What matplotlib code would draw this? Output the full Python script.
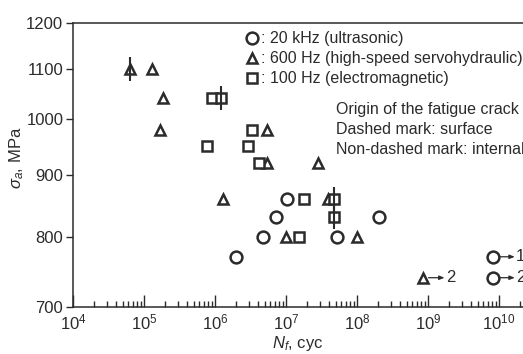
import numpy as np
import matplotlib
matplotlib.use("Agg")
import matplotlib.pyplot as plt
from matplotlib.transforms import offset_copy
from matplotlib.ticker import FixedLocator, FixedFormatter, LogLocator, NullFormatter, NullLocator

plt.rcParams['font.family'] = ['Liberation Sans', 'DejaVu Sans']
plt.rcParams['mathtext.fontset'] = 'custom'
plt.rcParams['mathtext.rm'] = 'Liberation Sans'
plt.rcParams['mathtext.it'] = 'Liberation Sans:italic'

ink = '#2b2b2b'

# 20 kHz (ultrasonic)
circ_n = [2.0e6, 4.8e6, 7.2e6, 1.02e7, 5.2e7, 2.04e8]
circ_s = [770, 800, 830, 860, 800, 830]
# 600 Hz (high-speed servohydraulic)
tri_n = [6.3e4, 1.3e5, 1.85e5, 1.7e5, 1.3e6, 5.4e6, 5.4e6, 2.8e7, 1.0e7, 3.9e7, 1.0e8]
tri_s = [1100, 1100, 1040, 980, 860, 980, 920, 920, 800, 860, 800]
# 100 Hz (electromagnetic)
sq_n = [9.1e5, 1.2e6, 7.8e5, 2.9e6, 3.3e6, 4.1e6, 1.8e7, 4.8e7, 4.8e7, 1.5e7]
sq_s = [1040, 1040, 950, 950, 980, 920, 860, 860, 830, 800]
# surface-origin marks (dashed)
surf_n = [6.3e4, 1.2e6, 4.8e7, 4.8e7]
surf_s = [1100, 1040, 860, 830]
# run-outs
run_n = [8.5e8, 8.3e9, 8.3e9]
run_s = [740, 770, 740]
run_mk = ['^', 'o', 'o']
run_lab = ['2', '1', '2']

legend_txt = [': 20 kHz (ultrasonic)', ': 600 Hz (high-speed servohydraulic)',
              ': 100 Hz (electromagnetic)']
note_txt = ['Origin of the fatigue crack', 'Dashed mark: surface',
            'Non-dashed mark: internal']

fig = plt.figure(figsize=(5.23, 3.54), dpi=100)
ax = fig.add_axes([73/523, 47/354, 450/523, 284/354])

mk = dict(ls='none', mfc='white', mec=ink, mew=1.8, clip_on=False)
ax.plot(circ_n, circ_s, 'o', ms=8.5, **mk)
ax.plot(tri_n, tri_s, '^', ms=7, **mk)
ax.plot(sq_n, sq_s, 's', ms=6.5, **mk)
ax.plot(surf_n, surf_s, '|', ms=17, mew=1.5, color=ink, ls='none')

ax.set_xscale('log')
ax.set_yscale('log')
ax.set_xlim(1e4, 10**(4 + 450/71))
ax.set_ylim(700, 1200)

# run-out arrows: start just past the marker, tip right before the label
start_tr = offset_copy(ax.transData, fig=fig, x=4, y=0, units='points')
tip_tr = offset_copy(ax.transData, fig=fig, x=15.5, y=0, units='points')
for n, s, m, lab in zip(run_n, run_s, run_mk, run_lab):
    ax.plot(n, s, m, ms=8.5 if m == 'o' else 7, **mk)
    ax.annotate('', xy=(n, s), xycoords=tip_tr, xytext=(n, s), textcoords=start_tr,
                arrowprops=dict(arrowstyle='-|>,head_length=0.3,head_width=0.12',
                                color=ink, lw=0.9, shrinkA=0, shrinkB=0),
                annotation_clip=False)
    ax.annotate(lab, xy=(n, s), xytext=(16.5, 0), textcoords='offset points',
                ha='left', va='center', fontsize=12, color=ink,
                annotation_clip=False)

yt = [700, 800, 900, 1000, 1100, 1200]
ax.yaxis.set_major_locator(FixedLocator(yt))
ax.yaxis.set_major_formatter(FixedFormatter([str(v) for v in yt]))
ax.yaxis.set_minor_locator(NullLocator())
ax.xaxis.set_major_locator(LogLocator(base=10, numticks=20))
ax.xaxis.set_minor_locator(LogLocator(base=10, subs=np.arange(2, 10), numticks=20))
ax.xaxis.set_minor_formatter(NullFormatter())

ax.tick_params(axis='y', direction='out', length=5, width=1, colors=ink, labelsize=12, pad=2)
ax.tick_params(axis='x', which='major', direction='in', length=9, width=1, colors=ink,
               labelsize=12, pad=4)
ax.tick_params(axis='x', which='minor', direction='in', length=4.5, width=1, colors=ink)
ax.spines['right'].set_visible(False)
for sp in ['left', 'bottom', 'top']:
    ax.spines[sp].set_color(ink)
    ax.spines[sp].set_linewidth(1.1)

ax.set_xlabel('$N_f$, cyc', fontsize=12, color=ink, labelpad=1)
ax.set_ylabel(r'$\sigma_a$, MPa', fontsize=12, color=ink)
ax.yaxis.set_label_coords(-0.105, 0.525)

leg_mk = ['o', '^', 's']
leg_ms = [8.5, 7, 6.5]
for i, (m, t) in enumerate(zip(leg_mk, legend_txt)):
    yy = 0.947 - i*0.0705
    ax.plot(0.398, yy, m, ms=leg_ms[i], transform=ax.transAxes, **mk)
    ax.text(0.418, yy, t, transform=ax.transAxes, ha='left', va='center',
            fontsize=11.5, color=ink)
for i, t in enumerate(note_txt):
    ax.text(0.584, 0.694 - i*0.0705, t, transform=ax.transAxes, ha='left',
            va='center', fontsize=11.5, color=ink)

fig.savefig('out.png', dpi=100)
